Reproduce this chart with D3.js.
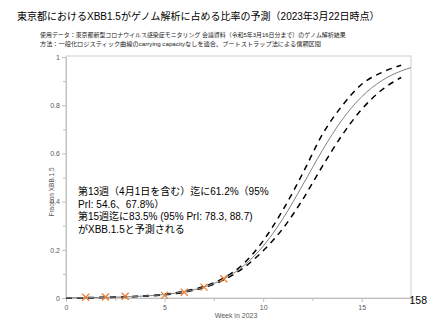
<!DOCTYPE html>
<html><head><meta charset="utf-8">
<script src="https://cdn.jsdelivr.net/npm/d3@7"></script>
<style>
html,body{margin:0;padding:0;background:#fff;overflow:hidden;}
svg{display:block;}
</style></head>
<body>
<script>
const titleText = "東京都におけるXBB1.5がゲノム解析に占める比率の予測（2023年3月22日時点）";
const subtitleLines = [
  "使用データ：東京都新型コロナウイルス感染症モニタリング 会議資料（令和5年3月16日分まで）のゲノム解析結果",
  "方法：一般化ロジスティック曲線のcarrying capacityなしを適合、ブートストラップ法による信頼区間"
];
const noteLines = [
  "第13週（4月1日を含む）迄に61.2%（95%",
  "PrI: 54.6、67.8%）",
  "第15週迄に83.5% (95% PrI: 78.3, 88.7)",
  "がXBB.1.5と予測される"
];
const xTicks = [0, 5, 10, 15];
const yTicks = [0, 0.2, 0.4, 0.6, 0.8, 1];
const yTickLabels = ["0", "0.2", "0.4", "0.6", "0.8", "1"];
const xLabel = "Week in 2023";
const yLabel = "Fraction XBB.1.5";
const pageNumber = "158";

// observed fractions
const obsWeeks = [1, 2, 3, 5, 6, 7, 8];
const obsValues = [0.003, 0.004, 0.007, 0.011, 0.024, 0.045, 0.080];

// fitted curve (solid) and bootstrap interval (dashed)
const fitWeeks = [0, 1, 2, 3, 4, 5, 6, 7, 8, 9, 10, 11, 12, 13, 14, 15, 16, 17, 17.5];
const fitValues = [0.001, 0.0014, 0.0026, 0.0046, 0.0082, 0.0146, 0.026, 0.0455, 0.079, 0.133, 0.215, 0.329, 0.468, 0.612, 0.739, 0.835, 0.901, 0.942, 0.956];
const bandWeeks = [0, 1, 2, 3, 4, 5, 6, 7, 8, 9, 10, 11, 12, 13, 14, 15, 16, 17];
const upperValues = [0.001, 0.0016, 0.003, 0.005, 0.009, 0.016, 0.028, 0.048, 0.083, 0.142, 0.237, 0.365, 0.516, 0.678, 0.797, 0.887, 0.935, 0.966];
const lowerValues = [0.001, 0.0012, 0.0022, 0.004, 0.0075, 0.013, 0.024, 0.043, 0.075, 0.125, 0.196, 0.288, 0.408, 0.546, 0.675, 0.783, 0.862, 0.915];

const W = 427, H = 320;
const svg = d3.select("body").append("svg").attr("width", W).attr("height", H);
const jp = "'Liberation Sans','Noto Sans CJK JP',sans-serif";
const lat = "'Liberation Sans',Arial,sans-serif";

function fit(sel, target) {
  const n = sel.node();
  const len = n.getComputedTextLength();
  const fs = parseFloat(sel.attr("font-size"));
  sel.attr("font-size", (fs * target / len).toFixed(2));
}

const x = d3.scaleLinear().domain([0, 17.5]).range([66, 411]);
const y = d3.scaleLinear().domain([0, 1]).range([298, 57]);

// title
const t = svg.append("text").attr("x", 17).attr("y", 20).attr("font-family", jp)
  .attr("font-size", 11).attr("fill", "#000").text(titleText);
fit(t, 363);

const subW = [305, 281];
subtitleLines.forEach((s, i) => {
  const st = svg.append("text").attr("x", 40).attr("y", 36.5 + i * 9).attr("font-family", jp)
    .attr("font-size", 6.2).attr("fill", "#222").text(s);
  fit(st, subW[i]);
});

// plot frame
svg.append("rect").attr("x", x(0)).attr("y", y(1) - 1).attr("width", x(17.5) - x(0))
  .attr("height", y(0) - y(1) + 1).attr("fill", "none").attr("stroke", "#d0d0d0").attr("stroke-width", 1);

// axes
const yAxis = d3.axisLeft(y).tickValues(yTicks).tickFormat((d, i) => yTickLabels[i]).tickSize(4).tickPadding(2);
const gy = svg.append("g").attr("transform", `translate(${x(0)},0)`).call(yAxis);
gy.select(".domain").attr("stroke", "#bfbfbf");
gy.selectAll(".tick line").attr("stroke", "#bfbfbf");
gy.selectAll("text").attr("font-family", lat).attr("font-size", 7).attr("fill", "#595959");
const yMinor = d3.axisLeft(y).tickValues([0.1, 0.3, 0.5, 0.7, 0.9]).tickSize(3).tickFormat("");
const gym = svg.append("g").attr("transform", `translate(${x(0)},0)`).call(yMinor);
gym.select(".domain").remove();
gym.selectAll(".tick line").attr("stroke", "#bfbfbf");

const xAxis = d3.axisBottom(x).tickValues(xTicks).tickFormat(d3.format("d")).tickSize(4).tickPadding(3);
const gx = svg.append("g").attr("transform", `translate(0,${y(0)})`).call(xAxis);
gx.select(".domain").attr("stroke", "#bfbfbf");
gx.selectAll(".tick line").attr("stroke", "#bfbfbf");
gx.selectAll("text").attr("font-family", lat).attr("font-size", 7).attr("fill", "#595959");
const xMinor = d3.axisBottom(x).tickValues([2.5, 7.5, 12.5]).tickSize(3).tickFormat("");
const gxm = svg.append("g").attr("transform", `translate(0,${y(0)})`).call(xMinor);
gxm.select(".domain").remove();
gxm.selectAll(".tick line").attr("stroke", "#bfbfbf");

// axis labels
svg.append("text").attr("x", 236).attr("y", 318).attr("text-anchor", "middle")
  .attr("font-family", lat).attr("font-size", 7).attr("fill", "#595959").text(xLabel);
svg.append("text").attr("transform", "translate(54,192) rotate(-90)").attr("text-anchor", "middle")
  .attr("font-family", lat).attr("font-size", 6.5).attr("fill", "#595959").text(yLabel);

// lines
const lineFit = d3.line().x((d, i) => x(fitWeeks[i])).y(d => y(d)).curve(d3.curveMonotoneX);
const lineBand = d3.line().x((d, i) => x(bandWeeks[i])).y(d => y(d)).curve(d3.curveMonotoneX);

[upperValues, lowerValues].forEach(vals => {
  svg.append("path").attr("d", lineBand(vals)).attr("fill", "none").attr("stroke", "#000")
    .attr("stroke-width", 1.5).attr("stroke-dasharray", "6,5");
});
svg.append("path").attr("d", lineFit(fitValues)).attr("fill", "none").attr("stroke", "#808080")
  .attr("stroke-width", 1);

// observed markers
const s = 3.5;
const mk = svg.append("g");
obsWeeks.forEach((w, i) => {
  const cx = x(w), cy = y(obsValues[i]);
  mk.append("path").attr("d", `M${cx - s},${cy - s}L${cx + s},${cy + s}M${cx - s},${cy + s}L${cx + s},${cy - s}`)
    .attr("stroke", "#ED7D31").attr("stroke-width", 1.3).attr("fill", "none");
});

// annotation: one multi-line text block
const noteY = [195, 207.5, 220, 232.5];
const note = svg.append("text").attr("font-family", jp).attr("font-size", 10).attr("fill", "#000");
noteLines.forEach((s, i) => {
  note.append("tspan").attr("x", 78).attr("y", noteY[i]).text(s);
});

// page number
svg.append("text").attr("x", 427).attr("y", 304).attr("text-anchor", "end").attr("font-family", lat)
  .attr("font-size", 10.5).attr("fill", "#000").text(pageNumber);
</script>
</body></html>
